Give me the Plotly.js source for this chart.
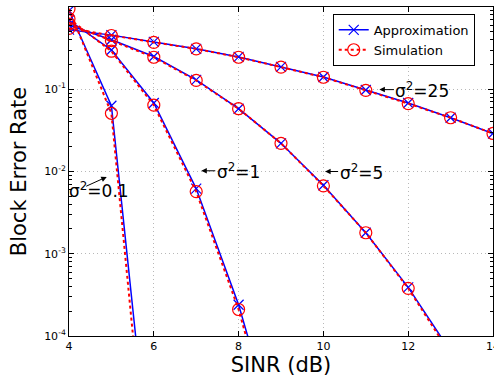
<!DOCTYPE html>
<html>
<head>
<meta charset="utf-8">
<script src="https://cdn.plot.ly/plotly-3.0.1.min.js"></script>
<style>html,body{margin:0;padding:0;background:#fff}#plot{width:494px;height:383px}</style>
</head>
<body>
<div id="plot"></div>
<script>
const snr = [4, 5, 6, 7, 8, 9, 10, 11, 12, 13, 14];

const approx_s01 = [0.90, 0.063, 8e-7, null, null, null, null, null, null, null, null];
const sim_s01    = [0.95, 0.051, 2.5e-7, null, null, null, null, null, null, null, null];
const approx_s1  = [0.69, 0.30, 0.068, 0.0062, 2.4e-4, 4e-6, null, null, null, null, null];
const sim_s1     = [0.72, 0.29, 0.064, 0.0057, 2.1e-4, 3e-6, null, null, null, null, null];
const approx_s5  = [0.60, 0.40, 0.25, 0.13, 0.058, 0.022, 0.0068, 0.0018, 0.00039, 6.5e-5, 8e-6];
const sim_s5     = [0.62, 0.39, 0.245, 0.128, 0.058, 0.022, 0.0067, 0.0018, 0.00038, 6e-5, 7e-6];
const approx_s25 = [0.53, 0.455, 0.376, 0.31, 0.247, 0.187, 0.141, 0.098, 0.068, 0.045, 0.029];
const sim_s25    = [0.55, 0.45, 0.372, 0.31, 0.245, 0.186, 0.140, 0.097, 0.067, 0.045, 0.029];

const yTickVals = [1e-4, 1e-3, 1e-2, 1e-1, 1];
const yTickText = ['10<sup>-4</sup>', '10<sup>-3</sup>', '10<sup>-2</sup>', '10<sup>-1</sup>', '10<sup>0</sup>'];
const xTickVals = [4, 6, 8, 10, 12, 14];

const FONT = 'DejaVu Sans, sans-serif';

function approxTrace(y, show) {
  return {x: snr, y: y, type: 'scatter', mode: 'lines+markers', name: 'Approximation',
    legendgroup: 'a', showlegend: show, connectgaps: false,
    line: {color: '#0000ff', width: 1.5},
    marker: {symbol: 'x-thin', size: 10, line: {color: '#0000ff', width: 1.2}, color: '#0000ff'}};
}
function simTrace(y, show) {
  return {x: snr, y: y, type: 'scatter', mode: 'lines+markers', name: 'Simulation',
    legendgroup: 's', showlegend: show, connectgaps: false,
    line: {color: '#ff0000', width: 2, dash: 'dot'},
    marker: {symbol: 'circle-open', size: 12, line: {color: '#ff0000', width: 1.2}, color: '#ff0000'}};
}

const data = [
  approxTrace(approx_s25, true), approxTrace(approx_s5, false), approxTrace(approx_s1, false), approxTrace(approx_s01, false),
  simTrace(sim_s25, true), simTrace(sim_s5, false), simTrace(sim_s1, false), simTrace(sim_s01, false)
];

const annFont = {family: FONT, size: 17, color: '#000'};
function labelAnn(x, y, ax, t) {
  return {x: x, y: Math.log10(y), xref: 'x', yref: 'y', ax: ax, ay: 0, axref: 'pixel', ayref: 'pixel',
    text: t, font: annFont, showarrow: true, arrowhead: 2, arrowsize: 1.1, arrowwidth: 1,
    arrowcolor: '#000', standoff: 0, borderpad: 1};
}

const layout = {
  width: 494, height: 383,
  margin: {l: 69, r: 1, t: 7, b: 47},
  paper_bgcolor: '#fff', plot_bgcolor: '#fff',
  font: {family: FONT, color: '#000'},
  showlegend: true,
  legend: {x: 0.622, y: 0.979, xanchor: 'left', yanchor: 'top', bgcolor: '#fff',
    bordercolor: '#000', borderwidth: 1, font: {family: FONT, size: 13}, traceorder: 'normal',
    tracegroupgap: 0},
  xaxis: {
    range: [4, 14], tickvals: xTickVals, ticks: 'inside', ticklen: 5, tickcolor: '#000',
    mirror: 'allticks', showline: true, linecolor: '#000', linewidth: 1,
    showgrid: true, gridcolor: '#b8b8b8', griddash: '1px,3px', gridwidth: 1, zeroline: false,
    tickfont: {family: FONT, size: 11}, ticklabeloverflow: 'allow',
    title: {text: 'SINR (dB)', font: {family: FONT, size: 21}, standoff: 5}
  },
  yaxis: {
    type: 'log', range: [-4, 0], tickvals: yTickVals, ticktext: yTickText,
    ticks: 'inside', ticklen: 5, tickcolor: '#000',
    mirror: 'allticks', showline: true, linecolor: '#000', linewidth: 1,
    showgrid: true, gridcolor: '#b8b8b8', griddash: '1px,3px', gridwidth: 1, zeroline: false,
    tickfont: {family: FONT, size: 11},
    minor: {ticks: 'inside', ticklen: 3, tickcolor: '#000', dtick: 'D1', showgrid: false},
    title: {text: 'Block Error Rate', font: {family: FONT, size: 21}, standoff: 11}
  },
  annotations: [
    labelAnn(11.32, 0.099, 43, 'σ<sup>2</sup>=25'),
    labelAnn(10.04, 0.0100, 36, 'σ<sup>2</sup>=5'),
    labelAnn(7.12, 0.0102, 37, 'σ<sup>2</sup>=1'),
    {x: -0.004, y: Math.log10(0.0060), xref: 'paper', yref: 'y', text: 'σ<sup>2</sup>=0.1', showarrow: false,
     xanchor: 'left', yanchor: 'middle', font: annFont},
    {x: 4.89, y: Math.log10(0.0086), xref: 'x', yref: 'y', ax: -22, ay: 10, axref: 'pixel', ayref: 'pixel',
     text: ' ', font: {size: 1}, showarrow: true, arrowhead: 2, arrowsize: 1.1, arrowwidth: 1,
     arrowcolor: '#000', standoff: 0, startstandoff: 0}
  ]
};

Plotly.newPlot('plot', data, layout, {displayModeBar: false, staticPlot: true});
</script>
</body>
</html>
